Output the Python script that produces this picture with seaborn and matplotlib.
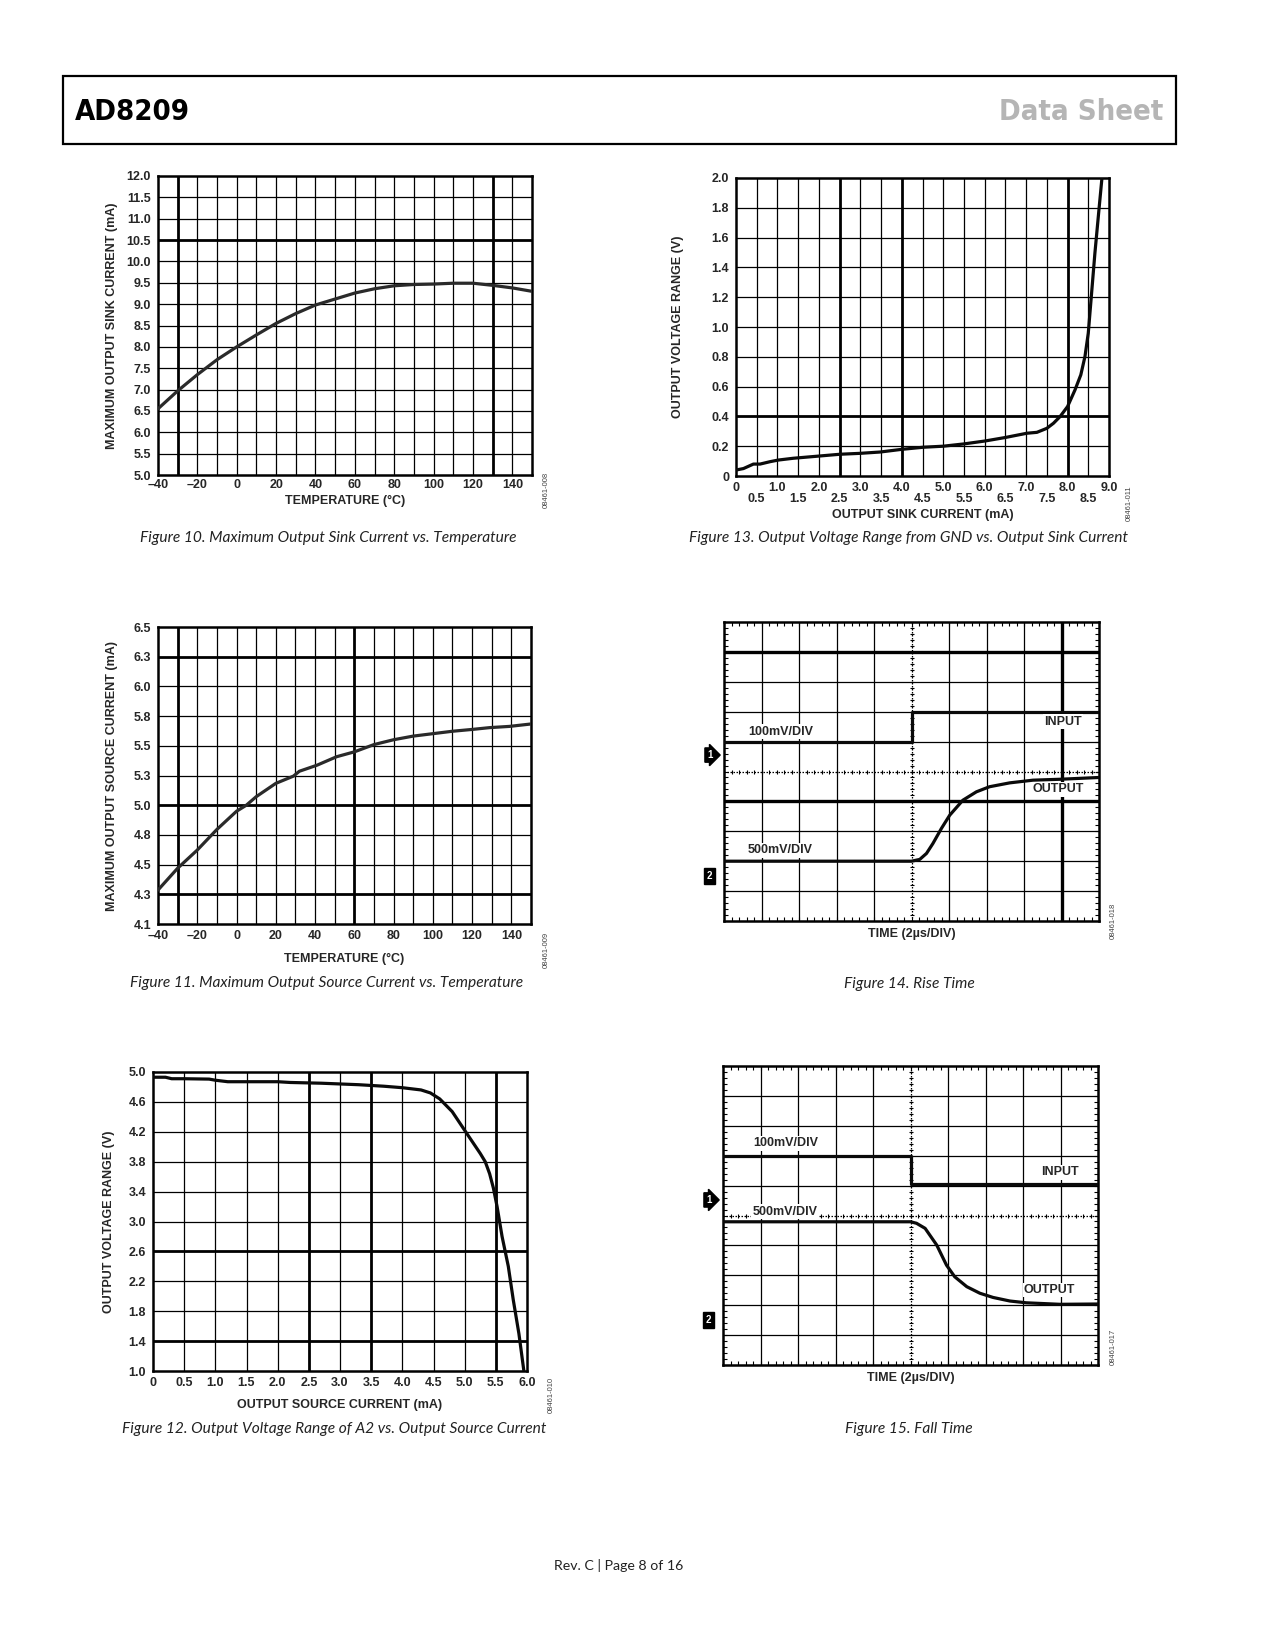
import numpy as np
import matplotlib.pyplot as plt
import seaborn as sns
from matplotlib.patches import Rectangle

sns.set_style("white")
plt.rcParams['font.family'] = ['Liberation Sans', 'DejaVu Sans']

W, H = 1275, 1650

# Figure 10: max output sink current vs temperature
sink_temp = [-40, -30, -20, -10, 0, 10, 20, 30, 40, 50, 60, 70, 80, 90, 100, 110, 120, 130, 140, 150]
sink_ma = [6.55, 6.97, 7.35, 7.70, 8.00, 8.28, 8.55, 8.78, 8.98, 9.12, 9.26, 9.36, 9.43, 9.46, 9.47,
           9.49, 9.49, 9.44, 9.38, 9.30]
sink_yticks = ['5.0', '5.5', '6.0', '6.5', '7.0', '7.5', '8.0', '8.5', '9.0', '9.5', '10.0',
               '10.5', '11.0', '11.5', '12.0']

# Figure 11: max output source current vs temperature
src_temp = [-40, -30, -20, -10, 0, 5, 10, 20, 29, 32, 41, 51, 60, 70, 80, 90, 100, 110, 120, 129, 139, 150]
src_ma = [4.33, 4.51, 4.66, 4.83, 4.98, 5.03, 5.10, 5.21, 5.27, 5.31, 5.36, 5.43, 5.47, 5.53, 5.57,
          5.60, 5.62, 5.64, 5.655, 5.67, 5.68, 5.70]
src_yticks = ['4.1', '4.3', '4.5', '4.8', '5.0', '5.3', '5.5', '5.8', '6.0', '6.3', '6.5']

# Figure 12: output voltage range of A2 vs output source current
a2_cur = [0, 0.2, 0.3, 0.5, 0.9, 1.0, 1.2, 2.0, 2.2, 2.7, 3.3, 3.7, 4.0, 4.3, 4.45, 4.6, 4.8, 5.0,
          5.25, 5.33, 5.40, 5.46, 5.52, 5.6, 5.7, 5.78, 5.87, 5.95]
a2_vout = [4.93, 4.93, 4.91, 4.91, 4.905, 4.89, 4.87, 4.87, 4.86, 4.85, 4.83, 4.81, 4.79, 4.76, 4.72,
           4.64, 4.47, 4.22, 3.91, 3.80, 3.64, 3.45, 3.20, 2.80, 2.40, 1.95, 1.50, 1.00]

# Figure 13: output voltage range from GND vs output sink current
gnd_cur = [0, 0.18, 0.42, 0.58, 0.82, 1.02, 1.38, 2.01, 2.51, 2.99, 3.48, 4.0, 4.52, 5.0, 5.49, 6.01,
           6.49, 7.02, 7.26, 7.5, 7.66, 7.82, 8.0, 8.18, 8.32, 8.42, 8.5, 8.58, 8.66, 8.75, 8.83]
gnd_vout = [0.04, 0.05, 0.08, 0.08, 0.096, 0.107, 0.119, 0.134, 0.146, 0.152, 0.161, 0.179, 0.193,
            0.20, 0.215, 0.235, 0.258, 0.287, 0.293, 0.32, 0.354, 0.399, 0.466, 0.578, 0.679, 0.802,
            0.959, 1.227, 1.496, 1.765, 2.0]

# Figure 14: rise time (scope divisions)
rise_in_t = [0, 5, 5, 10]
rise_in_v = [6.0, 6.0, 7.0, 7.0]
rise_out_t = [0, 5.0, 5.22, 5.4, 5.57, 5.8, 6.02, 6.37, 6.73, 7.08, 7.62, 8.24, 8.95, 10]
rise_out_v = [2.0, 2.0, 2.06, 2.26, 2.59, 3.1, 3.54, 4.04, 4.32, 4.49, 4.62, 4.71, 4.74, 4.8]

# Figure 15: fall time (scope divisions)
fall_in_t = [0, 5, 5, 10]
fall_in_v = [7.0, 7.0, 6.05, 6.05]
fall_out_t = [0, 5.0, 5.16, 5.39, 5.7, 5.96, 6.18, 6.5, 6.85, 7.2, 7.65, 8.09, 8.98, 10]
fall_out_v = [4.79, 4.79, 4.74, 4.57, 4.01, 3.34, 2.95, 2.62, 2.4, 2.26, 2.14, 2.08, 2.03, 2.04]

fig = plt.figure(figsize=(W / 100, H / 100), dpi=100)


def add_box(l, r, t, b):
    return fig.add_axes([l / W, 1 - b / H, (r - l) / W, (b - t) / H])


def draw_grid(ax, xs, ys, thick_x=(), thick_y=()):
    for x in xs:
        ax.axvline(x, color='black', lw=2.0 if any(np.isclose(x, thick_x)) else 0.9, zorder=1)
    for y in ys:
        ax.axhline(y, color='black', lw=2.0 if any(np.isclose(y, thick_y)) else 0.9, zorder=1)
    for s in ax.spines.values():
        s.set_linewidth(1.8)
        s.set_color('black')


def tick_text(ax, fs=9):
    for lbl in ax.get_xticklabels(which='both') + ax.get_yticklabels():
        lbl.set_fontweight('bold')
        lbl.set_fontsize(fs)


def line(ax, x, y, color='#111111'):
    sns.lineplot(x=x, y=y, ax=ax, color=color, linewidth=2.3, estimator=None, sort=False, zorder=3)


def labels(ax, xlabel, ylabel, xl_y, yl_x=-0.122):
    ax.text(0.5, xl_y, xlabel, transform=ax.transAxes, ha='center', va='center',
            fontsize=9, fontweight='bold')
    ax.text(yl_x, 0.5, ylabel, transform=ax.transAxes, ha='center', va='center',
            rotation=90, fontsize=9, fontweight='bold')


def tag(x, y, s):
    fig.text(x / W, 1 - y / H, s, rotation=90, fontsize=5.5, color='#444444', ha='center', va='center')


def caption(x, y, s):
    fig.text(x / W, 1 - y / H, s, fontsize=11.2, style='italic', ha='center', va='center',
             family=['Lato', 'DejaVu Sans'], color='#222222')


# ---- Figure 10
ax = add_box(158, 532, 176, 475)
line(ax, sink_temp, sink_ma, '#2a2a2a')
ax.set_xlim(-40, 150)
ax.set_ylim(5, 12)
draw_grid(ax, np.arange(-30, 150, 10), np.arange(5.5, 12, 0.5), thick_x=(-30, 130), thick_y=(10.5,))
ax.set_xticks(np.arange(-40, 141, 20))
ax.set_xticklabels([str(v).replace('-', '\u2013') for v in range(-40, 141, 20)])
ax.set_yticks(np.arange(5, 12.01, 0.5))
ax.set_yticklabels(sink_yticks)
ax.tick_params(length=0, pad=3)
ax.tick_params(axis='y', pad=5)
tick_text(ax)
ax.set_xlabel('')
ax.set_ylabel('')
labels(ax, 'TEMPERATURE (°C)', 'MAXIMUM OUTPUT SINK CURRENT (mA)', -0.088)
tag(546, 490, '08461-008')

# ---- Figure 11
ax = add_box(158, 531, 627, 924)
line(ax, src_temp, src_ma, '#2a2a2a')
ax.set_xlim(-40, 150)
ax.set_ylim(4.05, 6.5)
src_pos = np.linspace(4.05, 6.5, 11)
draw_grid(ax, np.arange(-30, 150, 10), src_pos[1:-1], thick_x=(-30, 60),
          thick_y=(src_pos[1], src_pos[4], src_pos[9]))
ax.set_xticks(np.arange(-40, 141, 20))
ax.set_xticklabels([str(v).replace('-', '\u2013') for v in range(-40, 141, 20)])
ax.set_yticks(src_pos)
ax.set_yticklabels(src_yticks)
ax.tick_params(length=0, pad=4)
ax.tick_params(axis='y', pad=5)
tick_text(ax)
ax.set_xlabel('')
ax.set_ylabel('')
labels(ax, 'TEMPERATURE (°C)', 'MAXIMUM OUTPUT SOURCE CURRENT (mA)', -0.117)
tag(546, 950, '08461-009')

# ---- Figure 12
ax = add_box(153, 527, 1072, 1371)
line(ax, a2_cur, a2_vout, '#0a0a0a')
ax.set_xlim(0, 6)
ax.set_ylim(1, 5)
draw_grid(ax, np.arange(0.5, 6, 0.5), np.arange(1.4, 5, 0.4), thick_x=(2.5, 3.5, 5.5),
          thick_y=(1.4, 2.6))
ax.set_xticks(np.arange(0, 6.01, 0.5))
ax.set_xticklabels(['0'] + ['%.1f' % v for v in np.arange(0.5, 6.01, 0.5)])
ax.set_yticks(np.arange(1, 5.01, 0.4))
ax.set_yticklabels(['%.1f' % v for v in np.arange(1, 5.01, 0.4)])
ax.tick_params(length=0, pad=4)
ax.tick_params(axis='y', pad=5)
tick_text(ax)
ax.set_xlabel('')
ax.set_ylabel('')
labels(ax, 'OUTPUT SOURCE CURRENT (mA)', 'OUTPUT VOLTAGE RANGE (V)', -0.115, -0.118)
tag(551, 1395, '08461-010')

# ---- Figure 13
ax = add_box(736, 1109, 178, 476)
line(ax, gnd_cur, gnd_vout, '#0a0a0a')
ax.set_xlim(0, 9)
ax.set_ylim(0, 2)
draw_grid(ax, np.arange(0.5, 9, 0.5), np.arange(0.2, 2, 0.2), thick_x=(2.5, 4.0, 8.0), thick_y=(0.4,))
ax.set_xticks(np.arange(0, 9.01, 1))
ax.set_xticklabels(['0'] + ['%.1f' % v for v in np.arange(1, 9.01, 1)])
ax.set_xticks(np.arange(0.5, 9, 1), minor=True)
ax.set_xticklabels(['%.1f' % v for v in np.arange(0.5, 9, 1)], minor=True)
ax.set_yticks(np.arange(0, 2.01, 0.2))
ax.set_yticklabels(['0'] + ['%.1f' % v for v in np.arange(0.2, 2.01, 0.2)])
ax.tick_params(which='both', length=0)
ax.tick_params(axis='x', which='major', pad=4)
ax.tick_params(axis='x', which='minor', pad=12)
ax.tick_params(axis='y', pad=5)
tick_text(ax)
ax.set_xlabel('')
ax.set_ylabel('')
labels(ax, 'OUTPUT SINK CURRENT (mA)', 'OUTPUT VOLTAGE RANGE (V)', -0.131, -0.155)
tag(1129, 503, '08461-011')


# ---- scope plots
def scope(ax, thick_x=(), thick_y=()):
    ax.set_xlim(0, 10)
    ax.set_ylim(0, 10)
    for v in range(1, 10):
        if v == 5:
            continue
        ax.axvline(v, color='black', lw=2.4 if v in thick_x else 0.9, zorder=1)
        ax.axhline(v, color='black', lw=2.4 if v in thick_y else 0.9, zorder=1)
    ax.axvline(5, color='black', lw=0.9, ls=(0, (1.2, 1.2)), zorder=1)
    ax.axhline(5, color='black', lw=0.9, ls=(0, (1.2, 1.2)), zorder=1)
    sub = np.arange(0.2, 10, 0.2)
    ax.plot(sub, np.full(sub.size, 5.0), ls='none', marker='|', ms=3.5, mew=0.8, color='black', zorder=1)
    ax.plot(np.full(sub.size, 5.0), sub, ls='none', marker='_', ms=3.5, mew=0.8, color='black', zorder=1)
    ax.set_xticks([])
    ax.set_yticks([])
    ax.set_xticks(sub, minor=True)
    ax.set_yticks(sub, minor=True)
    ax.tick_params(which='minor', direction='in', length=3, width=0.8, color='black',
                   top=True, right=True, bottom=True, left=True,
                   labelbottom=False, labelleft=False)
    for s in ax.spines.values():
        s.set_linewidth(1.8)
        s.set_color('black')


def marker(ax, y, s, arrow):
    style = 'rarrow,pad=0.22' if arrow else 'square,pad=0.3'
    ax.text(-0.038, y / 10, s, transform=ax.transAxes, ha='center', va='center', color='white',
            fontsize=7, fontweight='bold',
            bbox=dict(boxstyle=style, fc='black', ec='black'))


def slabel(ax, x, y, s, ha='left'):
    ax.text(x, y, s, ha=ha, va='center', fontsize=9, fontweight='bold', zorder=4,
            bbox=dict(fc='white', ec='none', pad=1.0))


# Figure 14
ax = add_box(724, 1099, 622, 921)
scope(ax, thick_x=(9,), thick_y=(9, 4))
line(ax, rise_in_t, rise_in_v, '#0a0a0a')
line(ax, rise_out_t, rise_out_v, '#0a0a0a')
ax.set_xlabel('')
ax.set_ylabel('')
slabel(ax, 0.64, 6.33, '100mV/DIV')
slabel(ax, 9.04, 6.66, 'INPUT', ha='center')
slabel(ax, 8.9, 4.4, 'OUTPUT', ha='center')
slabel(ax, 0.64, 2.37, '500mV/DIV')
marker(ax, 5.55, '1', True)
marker(ax, 1.5, '2', False)
ax.text(0.5, -0.043, 'TIME (2µs/DIV)', transform=ax.transAxes, ha='center', va='center',
        fontsize=9, fontweight='bold')
tag(1113, 921, '08461-018')

# Figure 15
ax = add_box(723, 1098, 1066, 1365)
scope(ax)
line(ax, fall_in_t, fall_in_v, '#0a0a0a')
line(ax, fall_out_t, fall_out_v, '#0a0a0a')
ax.set_xlabel('')
ax.set_ylabel('')
slabel(ax, 0.82, 7.41, '100mV/DIV')
slabel(ax, 8.98, 6.44, 'INPUT', ha='center')
slabel(ax, 0.79, 5.13, '500mV/DIV')
slabel(ax, 8.71, 2.51, 'OUTPUT', ha='center')
marker(ax, 5.52, '1', True)
marker(ax, 1.5, '2', False)
ax.text(0.5, -0.043, 'TIME (2µs/DIV)', transform=ax.transAxes, ha='center', va='center',
        fontsize=9, fontweight='bold')
tag(1113, 1347, '08461-017')

# captions
caption(328, 538, 'Figure 10. Maximum Output Sink Current vs. Temperature')
caption(909, 538, 'Figure 13. Output Voltage Range from GND vs. Output Sink Current')
caption(327, 983, 'Figure 11. Maximum Output Source Current vs. Temperature')
caption(909, 984, 'Figure 14. Rise Time')
caption(334, 1429, 'Figure 12. Output Voltage Range of A2 vs. Output Source Current')
caption(909, 1429, 'Figure 15. Fall Time')

# page header / footer
fig.add_artist(Rectangle((63 / W, 1 - 144 / H), (1176 - 63) / W, (144 - 76) / H,
                         transform=fig.transFigure, fill=False, ec='black', lw=1.6))
fig.text(75 / W, 1 - 112 / H, 'AD8209', fontsize=21, fontweight='bold', fontstretch='condensed',
         ha='left', va='center', family=['DejaVu Sans'], color='black')
fig.text(1163 / W, 1 - 112 / H, 'Data Sheet', fontsize=21, fontweight='bold', fontstretch='condensed',
         ha='right', va='center', family=['DejaVu Sans'], color='#b5b5b5')
fig.text(619 / W, 1 - 1566 / H, 'Rev. C | Page 8 of 16', fontsize=10.2, ha='center', va='center',
         family=['Lato', 'DejaVu Sans'], color='#222222')

fig.savefig('out.png', dpi=100)
